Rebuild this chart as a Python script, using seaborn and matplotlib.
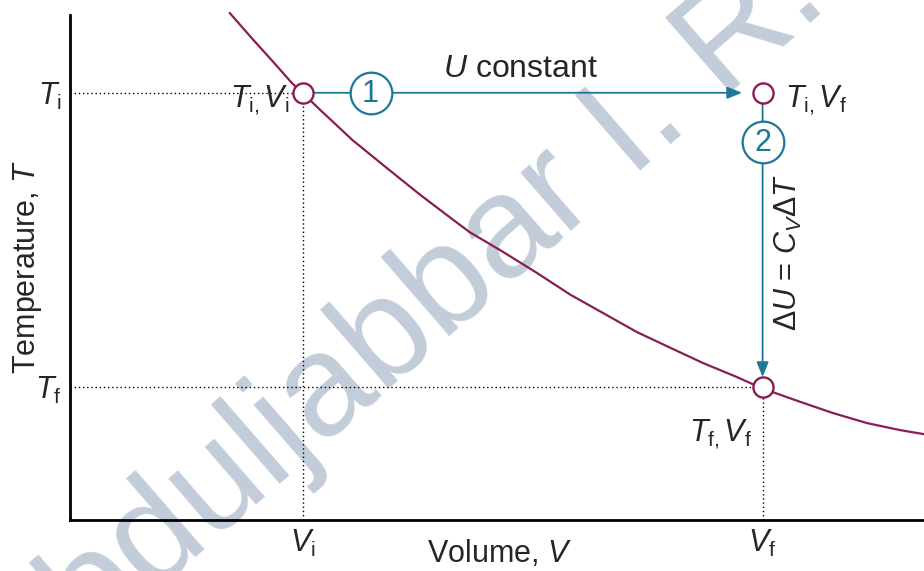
import matplotlib
matplotlib.use('Agg')
import matplotlib.pyplot as plt
import seaborn as sns
import pandas as pd

# curve (volume, temperature in arbitrary units)
curve_v = [1.87, 2.14, 2.38, 2.60, 2.72, 2.93, 3.31, 3.71, 4.10, 4.49, 4.68, 5.07, 5.47,
           5.86, 6.24, 6.64, 7.03, 7.41, 7.81, 8.10, 8.55, 8.93, 9.33, 9.72, 10.0]
curve_t = [10.04, 9.52, 9.07, 8.65, 8.46, 8.12, 7.52, 6.97, 6.44, 5.94, 5.70, 5.31, 4.89,
           4.46, 4.10, 3.72, 3.41, 3.11, 2.83, 2.61, 2.34, 2.12, 1.92, 1.78, 1.70]

# state points
v_i, v_f = 2.73, 8.11
t_i, t_f = 8.46, 2.63

tick_x = [v_i, v_f]
tick_x_labels = [r'$V_\mathrm{i}$', r'$V_\mathrm{f}$']
tick_y = [t_f, t_i]
tick_y_labels = [r'$T_\mathrm{f}$', r'$T_\mathrm{i}$']

purple = '#8a1c57'
teal = '#1c7896'
fs = 22

sns.set_theme(style='white')
plt.rcParams['font.family'] = ['Liberation Sans', 'DejaVu Sans']
plt.rcParams['mathtext.fontset'] = 'custom'
plt.rcParams['mathtext.rm'] = 'Liberation Sans'
plt.rcParams['mathtext.it'] = 'Liberation Sans:italic'

fig = plt.figure(figsize=(9.24, 5.71), dpi=100)
ax = fig.add_axes([70 / 924, 51 / 571, 854 / 924, 505 / 571])

# watermark behind everything
ax.text(400 / 924, 1 - 330 / 571, 'Abduljabbar I. R.', transform=fig.transFigure,
        fontsize=104, color='#c3cdda', rotation=41, rotation_mode='anchor',
        ha='center', va='center', zorder=0, clip_on=False)

df = pd.DataFrame({'V': curve_v, 'T': curve_t})
sns.lineplot(data=df, x='V', y='T', ax=ax, color=purple, lw=1.6, sort=False,
             zorder=3, clip_on=False)

# dotted guide lines
dot = dict(color='black', lw=1.0, ls=(0, (1, 2)), zorder=1)
ax.plot([0, v_i], [t_i, t_i], **dot)
ax.plot([v_i, v_i], [0, t_i], **dot)
ax.plot([0, v_f], [t_f, t_f], **dot)
ax.plot([v_f, v_f], [0, t_f], **dot)

# process arrows
head = '-|>,head_length=0.75,head_width=0.3'
ax.annotate('', xy=(7.87, t_i), xytext=(v_i, t_i),
            arrowprops=dict(arrowstyle=head, color=teal, lw=1.3, shrinkA=0, shrinkB=0),
            zorder=4)
ax.annotate('', xy=(v_f, t_f + 0.2), xytext=(v_f, t_i),
            arrowprops=dict(arrowstyle=head, color=teal, lw=1.3, shrinkA=0, shrinkB=0),
            zorder=4)

# step numbers
ax.plot([3.52], [t_i], marker='o', ms=30, mfc='white', mec=teal, mew=1.6, zorder=5)
ax.text(3.52, t_i - 0.02, '1', color=teal, fontsize=fs, ha='center', va='center', zorder=6)
ax.plot([v_f], [7.48], marker='o', ms=30, mfc='white', mec=teal, mew=1.6, zorder=5)
ax.text(v_f, 7.46, '2', color=teal, fontsize=fs, ha='center', va='center', zorder=6)

# state markers
ax.plot([v_i, v_f, v_f], [t_i, t_i, t_f], ls='none', marker='o', ms=14.5, mfc='white',
        mec=purple, mew=1.7, zorder=7, clip_on=False)

# annotations
ax.text(5.27, 8.93, r'$U$ constant', fontsize=23, ha='center', va='center')
ax.text(2.57, 8.3, r'$T_{\mathrm{i},}V_\mathrm{i}$', fontsize=fs, ha='right', va='center')
ax.text(8.37, 8.3, r'$T_{\mathrm{i},}V_\mathrm{f}$', fontsize=fs, ha='left', va='center')
ax.text(7.99, 1.7, r'$T_{\mathrm{f},}V_\mathrm{f}$', fontsize=fs, ha='right', va='center')
ax.text(8.41, 5.3, r'$\Delta U$ = $C_V\Delta T$', fontsize=fs, rotation=90,
        ha='center', va='center')

ax.set_xlim(0, 10)
ax.set_ylim(0, 10)
ax.set_xticks(tick_x, tick_x_labels, fontsize=fs)
ax.set_yticks(tick_y, tick_y_labels, fontsize=fs)
ax.tick_params(length=0, pad=6)
ax.set_xlabel(r'Volume, $V$', fontsize=fs)
ax.set_ylabel(r'Temperature, $T$', fontsize=fs)
ax.xaxis.set_label_coords(0.503, -0.036)
ax.yaxis.set_label_coords(-0.031, 0.5)

for s in ['top', 'right']:
    ax.spines[s].set_visible(False)
for s in ['left', 'bottom']:
    ax.spines[s].set_color('black')
    ax.spines[s].set_linewidth(2)

fig.savefig('out.png', dpi=100)
